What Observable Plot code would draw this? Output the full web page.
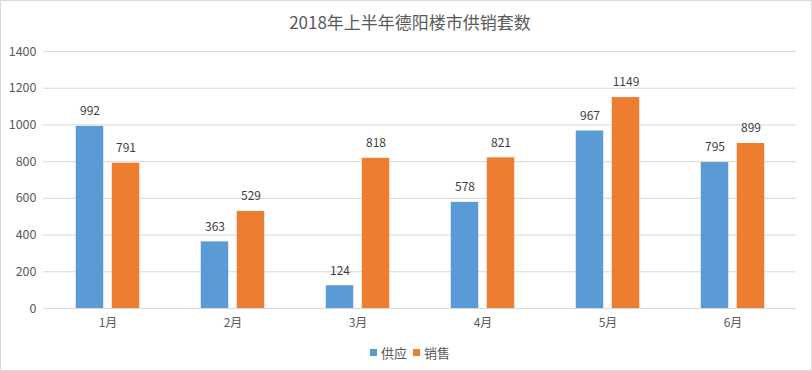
<!DOCTYPE html>
<html><head><meta charset="utf-8">
<script src="https://cdn.jsdelivr.net/npm/d3@7"></script>
<script src="https://cdn.jsdelivr.net/npm/@observablehq/plot@0.6"></script>
<style>
body{margin:0;background:#fff;font-family:"Noto Sans CJK SC","Noto Sans",sans-serif}
#wrap{width:810px;height:369px;border:1px solid #d9d9d9;position:relative;overflow:hidden;background:#fff}
#title{height:39px;line-height:41px;text-align:center;font-size:17px;color:#595959;padding-left:8px;box-sizing:border-box}
#legend{height:34px;display:flex;justify-content:center;align-items:center;font-size:13px;color:#595959;padding-left:8px;box-sizing:border-box}
#legend .item{display:flex;align-items:center;margin:0 3px}
#legend .sw{width:7px;height:7px;margin-right:4px}
svg{display:block}
</style></head>
<body>
<div id="wrap">
<div id="title">2018年上半年德阳楼市供销套数</div>
<div id="chart"></div>
<div id="legend"></div>
</div>
<script>
const months = ["1月","2月","3月","4月","5月","6月"];
const seriesNames = ["供应","销售"];
const supply = [992, 363, 124, 578, 967, 795];
const sales = [791, 529, 818, 821, 1149, 899];
const yTicks = [0,200,400,600,800,1000,1200,1400];
const colors = ["#5B9BD5","#ED7D31"];

const width = 810, marginLeft = 42, marginRight = 15;
const bandW = (width - marginLeft - marginRight) / months.length;
const barW = 28, gap = 8;
const offsetA = -(gap/2 + barW/2), offsetB = gap/2 + barW/2;

const rowsA = months.map((m,i)=>({month:m, series:seriesNames[0], value:supply[i]}));
const rowsB = months.map((m,i)=>({month:m, series:seriesNames[1], value:sales[i]}));

const insetFor = (off) => ({
  insetLeft: bandW/2 + off - barW/2,
  insetRight: bandW/2 - off - barW/2
});

const chart = Plot.plot({
  width, height: 295,
  marginLeft, marginRight, marginTop: 11, marginBottom: 27,
  style: {fontFamily: '"Noto Sans CJK SC","Noto Sans",sans-serif', fontSize: "12px", color: "#595959", background: "transparent"},
  x: {domain: months, paddingInner: 0, paddingOuter: 0, label: null},
  y: {domain: [0, 1400], label: null},
  marks: [
    Plot.gridY(yTicks, {stroke: "#d9d9d9", strokeOpacity: 1}),
    Plot.barY(rowsA, {x: "month", y: "value", fill: colors[0], ...insetFor(offsetA)}),
    Plot.barY(rowsB, {x: "month", y: "value", fill: colors[1], ...insetFor(offsetB)}),
    Plot.text(rowsA, {x: "month", y: "value", text: d => String(d.value), dx: offsetA, dy: -15, fill: "#404040", fontSize: 12}),
    Plot.text(rowsB, {x: "month", y: "value", text: d => String(d.value), dx: offsetB, dy: -15, fill: "#404040", fontSize: 12}),
    Plot.axisX({tickSize: 0, tickPadding: 10, label: null}),
    Plot.axisY(yTicks, {tickSize: 0, tickPadding: 7, label: null, tickFormat: d => String(d), fontSize: 12.5})
  ]
});
document.getElementById("chart").appendChild(chart);

const legend = document.getElementById("legend");
seriesNames.forEach((s,i)=>{
  const it = document.createElement("div"); it.className="item";
  const sw = document.createElement("div"); sw.className="sw"; sw.style.background=colors[i];
  const tx = document.createElement("span"); tx.textContent = s;
  it.appendChild(sw); it.appendChild(tx); legend.appendChild(it);
});
</script>
</body></html>
